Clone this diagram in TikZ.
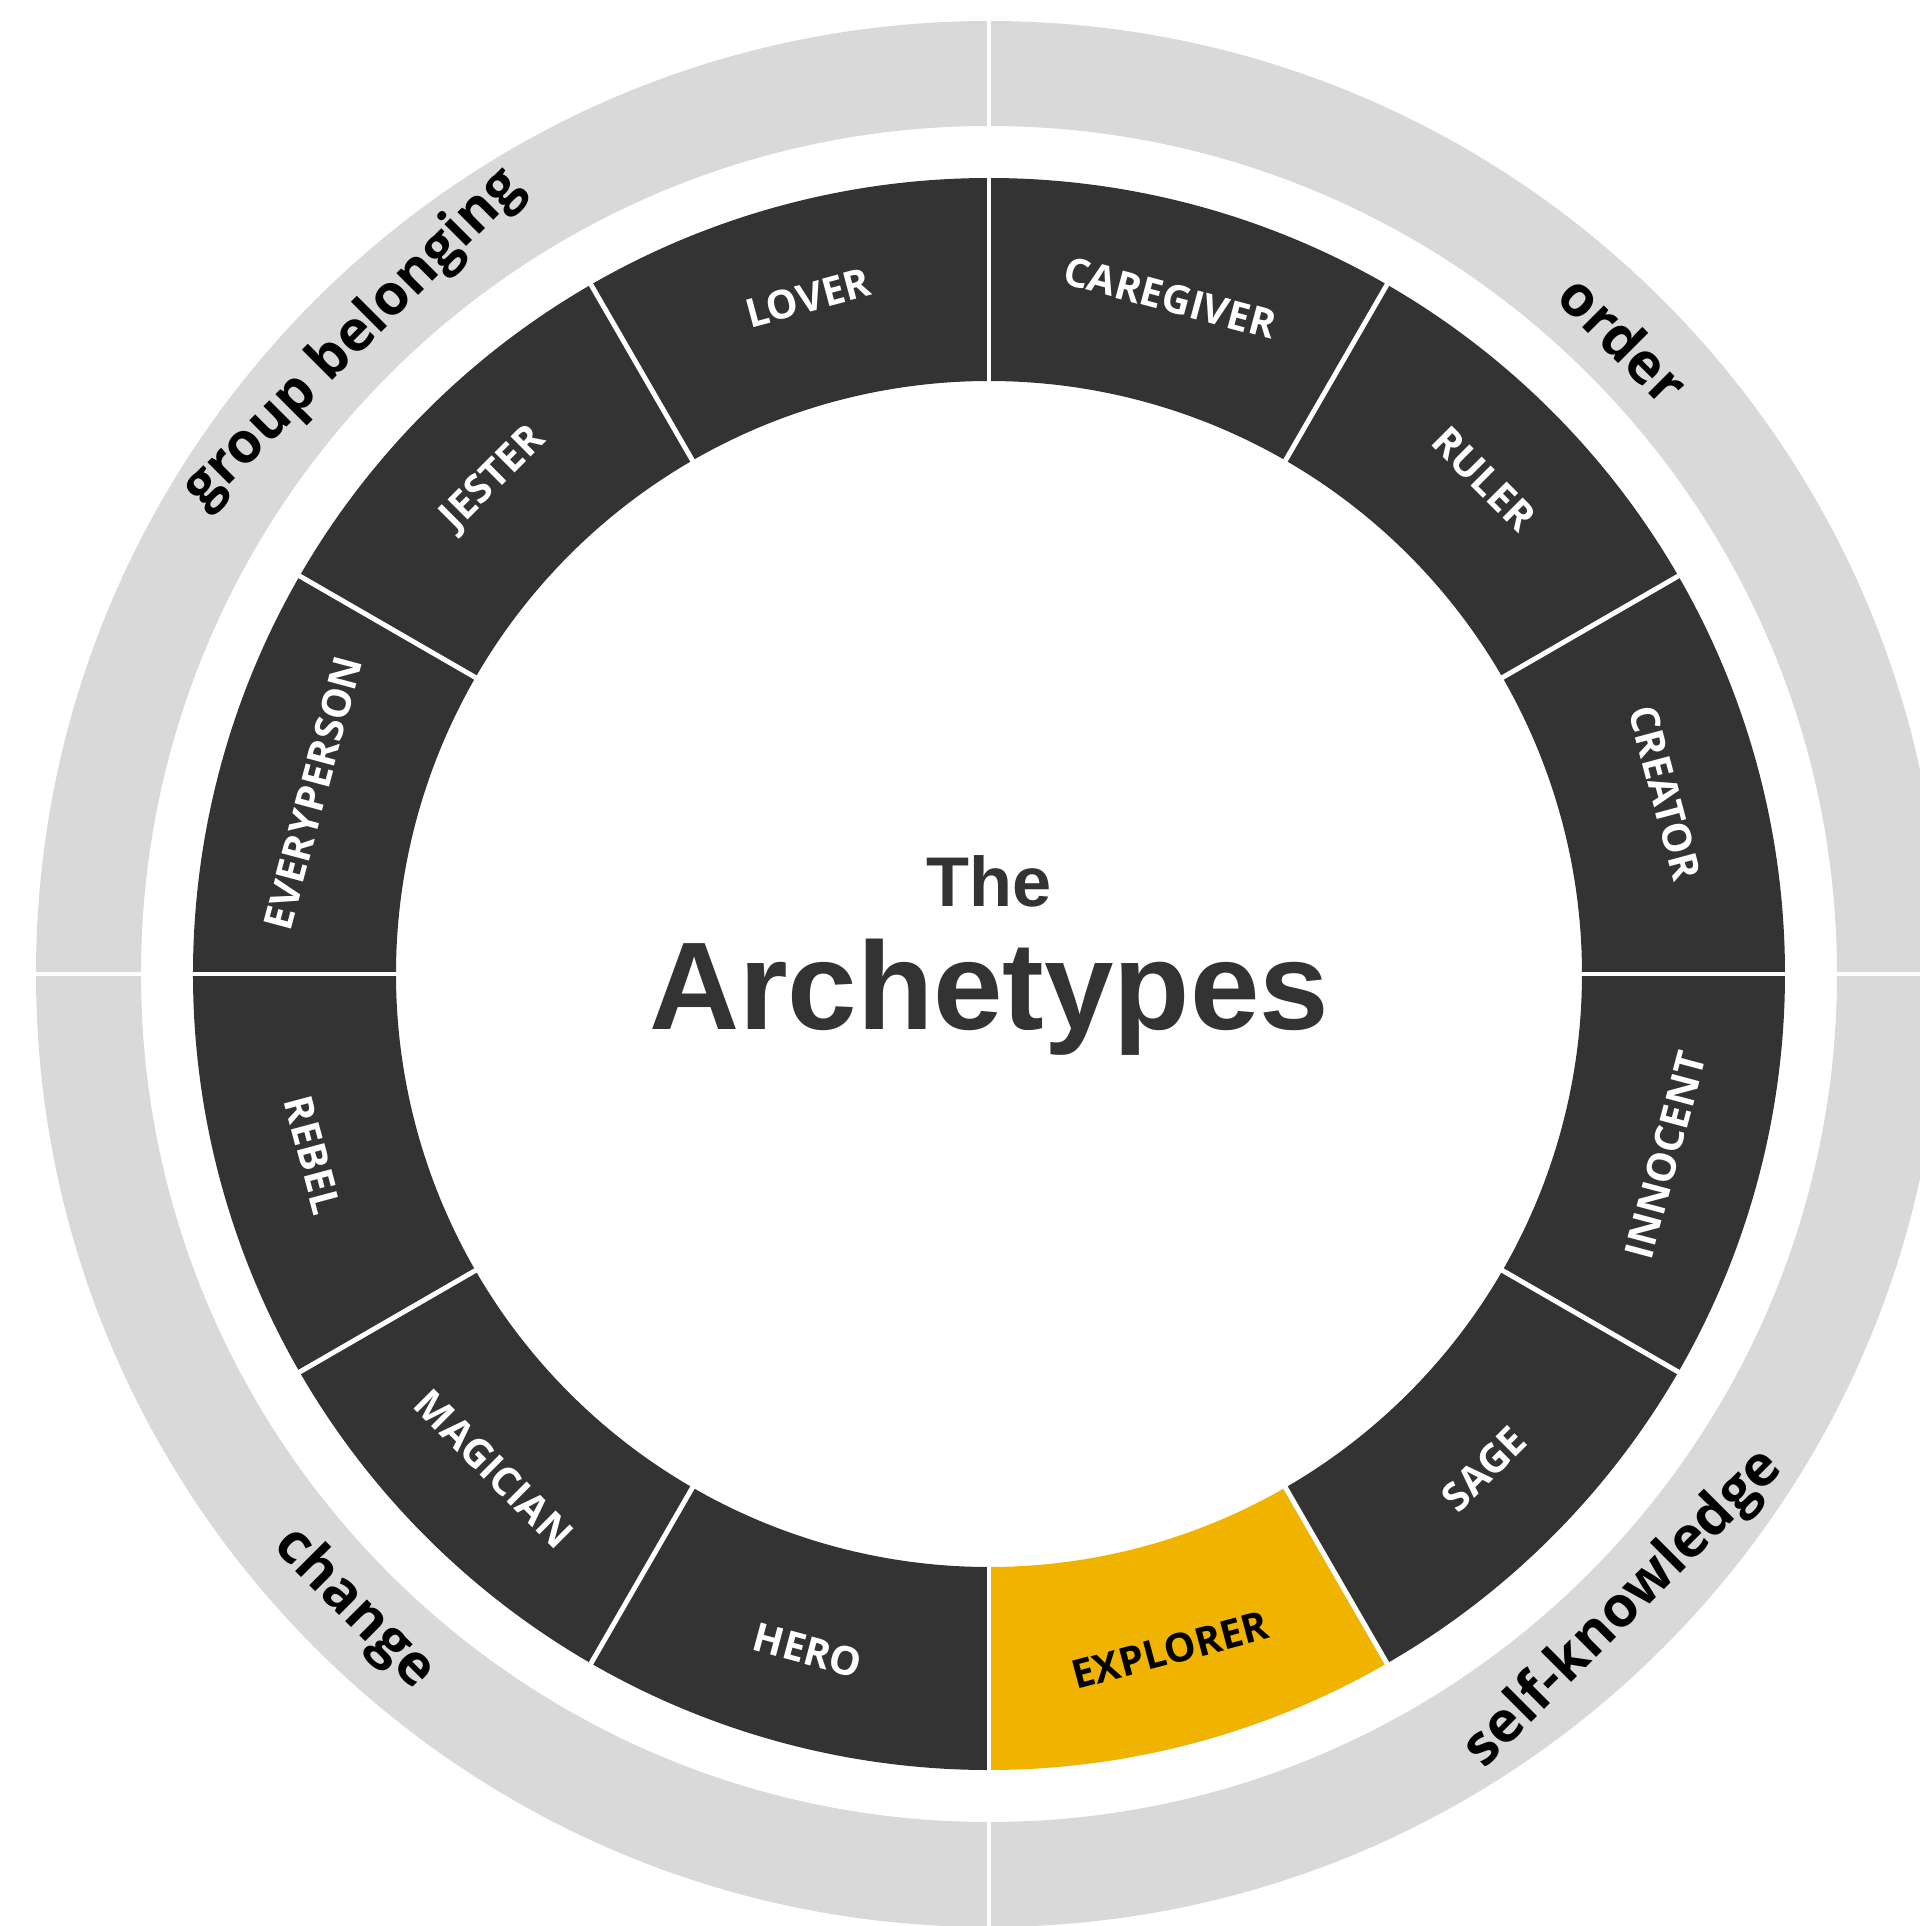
\documentclass[tikz,border=0pt]{standalone}
\usepackage{fontspec}
\setmainfont{Liberation Sans}
\newfontfamily\ringfont{Open Sans}
\usetikzlibrary{positioning}
\definecolor{segdark}{HTML}{333333}
\definecolor{seggold}{HTML}{F0B400}
\definecolor{bandgrey}{HTML}{D9D9D9}
\tikzstyle{segtext}=[font=\ringfont\bfseries\fontsize{11.3}{13}\selectfont, text=white, inner sep=0pt]
\tikzstyle{bandtext}=[font=\ringfont\bfseries\fontsize{16}{19}\selectfont, text=black, inner sep=0pt]
\tikzstyle{gap}=[draw=white, line width=1.4pt]
\newcommand{\annsector}[5]{\fill[#1] (#2:#4) arc[start angle=#2, end angle=#3, radius=#4] -- (#3:#5) arc[start angle=#3, end angle=#2, radius=#5] -- cycle;}

\begin{document}
\begin{tikzpicture}[x=0.01cm, y=0.01cm]
\useasboundingbox (-989,-952) rectangle (931,974);
% outer band
\fill[bandgrey, even odd rule] (0,0) circle (953) (0,0) circle (848);
\foreach \a in {0,90,180,270} \draw[gap] (\a:840) -- (\a:965);
\foreach \m/\name in {45/order,135/group belonging,225/change,315/self-knowledge} {
  \pgfmathsetmacro\rot{\m<180 ? \m-90 : \m+90}
  \node[bandtext, rotate=\rot] (band-\m) at (\m:898) {\name};
}
% archetype ring
\foreach \m/\name in {15/CREATOR,45/RULER,75/CAREGIVER,105/LOVER,135/JESTER,165/EVERYPERSON,195/REBEL,225/MAGICIAN,255/HERO,315/SAGE,345/INNOCENT} {
  \pgfmathsetmacro\sa{\m-15}
  \pgfmathsetmacro\ea{\m+15}
  \annsector{segdark}{\sa}{\ea}{593}{796}
  \pgfmathsetmacro\rot{\m<180 ? \m-90 : \m+90}
  \node[segtext, rotate=\rot] (seg-\m) at (\m:700) {\name};
}
\annsector{seggold}{270}{300}{593}{796}
\node[segtext, text=black, rotate=15] (seg-285) at (285:700) {EXPLORER};
\foreach \a in {0,30,...,330} \draw[gap] (\a:585) -- (\a:805);
% title
\node[font=\bfseries\fontsize{20}{24}\selectfont, text=segdark, anchor=base] (the) at (0,68) {The};
\node[font=\bfseries\fontsize{35.5}{40}\selectfont, text=segdark, anchor=base] (archetypes) at (0,-55) {Archetypes};
\end{tikzpicture}
\end{document}
